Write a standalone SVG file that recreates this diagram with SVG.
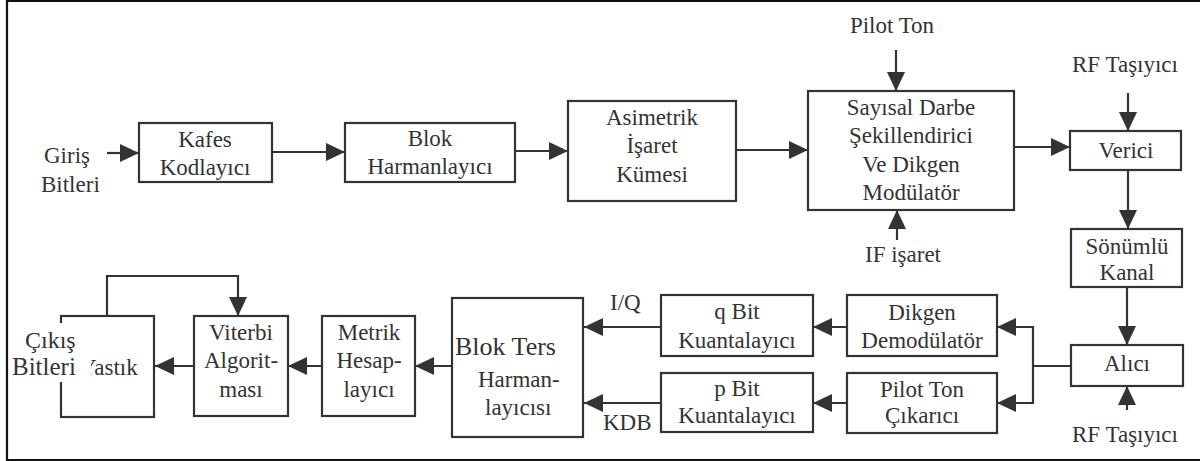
<svg xmlns="http://www.w3.org/2000/svg" width="1200" height="461" viewBox="0 0 1200 461" font-family="'Liberation Serif', 'DejaVu Serif', serif">
<style>
.box{fill:#fff;stroke:#333;stroke-width:2.2}
.ln{fill:none;stroke:#333;stroke-width:2.2}
.ar{marker-end:url(#ah)}
text{font-family:'Liberation Serif','DejaVu Serif',serif;font-size:23px;fill:#333;text-anchor:middle}
.l{text-anchor:start}
</style>
<defs>
<marker id="ah" markerUnits="userSpaceOnUse" markerWidth="22" markerHeight="22" refX="19" refY="9" orient="auto" overflow="visible">
<path d="M0,0 L19,9 L0,18 z" fill="#333"/>
</marker>
</defs>
<rect x="0" y="0" width="1200" height="461" fill="#fff"/>
<path d="M1203,1 H7 V460 H1203" fill="none" stroke="#111" stroke-width="2.2"/>

<g id="giris"><text class="l" x="44" y="163">Giriş</text><text class="l" x="41" y="192">Bitleri</text></g>
<g id="kafes"><rect class="box" x="139" y="123" width="133" height="59"/><text x="205" y="147">Kafes</text><text x="205" y="175">Kodlayıcı</text></g>
<g id="blok"><rect class="box" x="345" y="123" width="170" height="59"/><text x="430" y="146">Blok</text><text x="430" y="174">Harmanlayıcı</text></g>
<g id="asimetrik"><rect class="box" x="568" y="101" width="168" height="100"/><text x="652" y="125">Asimetrik</text><text x="652" y="153">İşaret</text><text x="652" y="182">Kümesi</text></g>
<g id="sayisal"><rect class="box" x="808" y="91" width="206" height="119"/><text x="911" y="115">Sayısal Darbe</text><text x="911" y="143">Şekillendirici</text><text x="911" y="172">Ve Dikgen</text><text x="911" y="200">Modülatör</text></g>
<g id="pilotton"><text x="892" y="33">Pilot Ton</text></g>
<g id="ifisaret"><text x="903" y="262">IF işaret</text></g>
<g id="rf1"><text x="1125" y="72">RF Taşıyıcı</text></g>
<g id="verici"><rect class="box" x="1070" y="131" width="111" height="39"/><text x="1126" y="158">Verici</text></g>
<g id="sonumlu"><rect class="box" x="1071" y="229" width="111" height="58"/><text x="1127" y="254">Sönümlü</text><text x="1127" y="280">Kanal</text></g>
<g id="alici"><rect class="box" x="1071" y="345" width="112" height="41"/><text x="1127" y="371">Alıcı</text></g>
<g id="rf2"><text x="1125" y="442">RF Taşıyıcı</text></g>
<g id="dikgen"><rect class="box" x="847" y="295" width="150" height="61"/><text x="922" y="320">Dikgen</text><text x="922" y="348">Demodülatör</text></g>
<g id="pilotcikarici"><rect class="box" x="847" y="373" width="150" height="60"/><text x="922" y="397">Pilot Ton</text><text x="922" y="423">Çıkarıcı</text></g>
<g id="qbit"><rect class="box" x="661" y="295" width="152" height="61"/><text x="737" y="319">q Bit</text><text x="737" y="348">Kuantalayıcı</text></g>
<g id="pbit"><rect class="box" x="661" y="373" width="152" height="59"/><text x="737" y="396">p Bit</text><text x="737" y="423">Kuantalayıcı</text></g>
<g id="iq"><text class="l" x="610" y="310">I/Q</text></g>
<g id="kdb"><text class="l" x="603" y="430">KDB</text></g>
<g id="blokters"><rect class="box" x="452" y="298" width="131" height="139"/><text class="l" x="455" y="355" style="font-size:26px">Blok Ters</text><text class="l" x="478" y="387">Harman-</text><text class="l" x="485" y="415">layıcısı</text></g>
<g id="metrik"><rect class="box" x="322" y="316" width="93" height="100"/><text x="369" y="340">Metrik</text><text x="369" y="368">Hesap-</text><text x="369" y="397">layıcı</text></g>
<g id="viterbi"><rect class="box" x="194" y="316" width="94" height="100"/><text x="241" y="340">Viterbi</text><text x="241" y="368">Algorit-</text><text x="241" y="397">ması</text></g>
<g id="yastik"><rect class="box" x="61" y="316" width="93" height="101"/><text class="l" x="80" y="375">Yastık</text><rect x="9" y="323" width="82" height="59" fill="#fff"/></g>
<g id="cikis"><text class="l" x="25" y="348" style="font-size:24px">Çıkış</text><text class="l" x="12" y="375" style="font-size:25px">Bitleri</text></g>

<g id="connectors">
<path class="ln ar" d="M107,153 H139"/>
<path class="ln ar" d="M272,152 H345"/>
<path class="ln ar" d="M515,151 H568"/>
<path class="ln ar" d="M736,150 H808"/>
<path class="ln ar" d="M896,50 V91"/>
<path class="ln ar" d="M897,240 V210"/>
<path class="ln ar" d="M1014,147 H1070"/>
<path class="ln ar" d="M1128,93 V131"/>
<path class="ln ar" d="M1128,170 V229"/>
<path class="ln ar" d="M1127,287 V345"/>
<path class="ln ar" d="M1127,410 V386"/>
<path class="ln" d="M1071,366 H1033 M1033,326 V404"/>
<path class="ln ar" d="M1033,327 H997"/>
<path class="ln ar" d="M1033,403 H997"/>
<path class="ln ar" d="M847,327 H813"/>
<path class="ln ar" d="M847,403 H813"/>
<path class="ln ar" d="M661,327 H584"/>
<path class="ln ar" d="M661,403 H584"/>
<path class="ln ar" d="M452,366 H415"/>
<path class="ln ar" d="M322,366 H288"/>
<path class="ln ar" d="M194,366 H155"/>
<path class="ln ar" d="M107,316 V276 H238 V316"/>
</g>
</svg>
